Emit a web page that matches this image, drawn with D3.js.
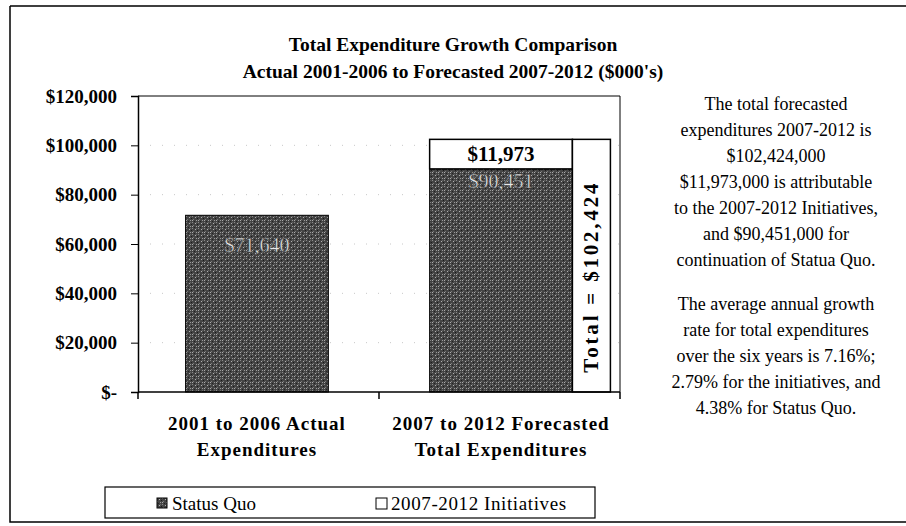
<!DOCTYPE html>
<html><head><meta charset="utf-8">
<script src="https://cdn.jsdelivr.net/npm/d3@7"></script>
<style>body{margin:0;background:#fff}svg{display:block}</style>
</head><body>
<svg id="c" width="906" height="526"></svg>
<script>
const categories = ["2001 to 2006 Actual|Expenditures", "2007 to 2012 Forecasted|Total Expenditures"];
const statusQuo = [71640, 90451];
const initiatives = [0, 11973];
const statusQuoLabels = ["$71,640", "$90,451"];
const initiativeLabels = ["", "$11,973"];
const totalLabel = "Total = $102,424";
const yTicks = [0, 20000, 40000, 60000, 80000, 100000, 120000];
const yTickLabels = ["$-", "$20,000", "$40,000", "$60,000", "$80,000", "$100,000", "$120,000"];
const seriesNames = ["Status Quo", "2007-2012 Initiatives"];
const titleLines = ["Total Expenditure Growth Comparison", "Actual 2001-2006 to Forecasted 2007-2012 ($000's)"];
const noteLines = ["The total forecasted", "expenditures 2007-2012 is", "$102,424,000", "$11,973,000 is attributable",
  "to the 2007-2012 Initiatives,", "and $90,451,000 for", "continuation of Statua Quo.", "",
  "The average annual growth", "rate for total expenditures", "over the six years is 7.16%;",
  "2.79% for the initiatives, and", "4.38% for Status Quo."];

const svg = d3.select("#c");
const serif = "'Liberation Serif','Times New Roman',serif";

// stipple pattern
const defs = svg.append("defs");
const pat = defs.append("pattern").attr("id","stip").attr("patternUnits","userSpaceOnUse").attr("width",6).attr("height",6);
pat.append("rect").attr("width",6).attr("height",6).attr("fill","#444");
[[0,0,"#8a8a8a"],[3,1,"#b0b0b0"],[1,3,"#7a7a7a"],[4,4,"#9a9a9a"],[2,5,"#222"],[5,2,"#1a1a1a"],[0,4,"#aaa"],[4,0,"#666"]]
  .forEach(([x,y,c])=>pat.append("rect").attr("x",x).attr("y",y).attr("width",1).attr("height",1).attr("fill",c));

// outer border
svg.append("path").attr("d","M10,6 H906 M10,6 V522 H906").attr("fill","none").attr("stroke","#000").attr("stroke-width",1.5);

// title
svg.append("g").selectAll("text").data(titleLines).join("text")
  .attr("x",453).attr("y",(d,i)=>51+i*27).attr("text-anchor","middle")
  .attr("font-family",serif).attr("font-weight","bold").attr("font-size",19.5).text(d=>d);

const x = d3.scaleBand().domain(categories).range([138,620]).paddingInner(0.415).paddingOuter(0.195);
const y = d3.scaleLinear().domain([0,120000]).range([392,96]);

// gridlines (faint dotted)
svg.append("g").selectAll("line").data(yTicks.slice(1,-1)).join("line")
  .attr("x1",138).attr("x2",620).attr("y1",d=>y(d)).attr("y2",d=>y(d))
  .attr("stroke","#c8c8c8").attr("stroke-dasharray","1,11");

// plot frame top/right
svg.append("path").attr("d",`M138,${y(120000)} H620 V${y(0)}`).attr("fill","none").attr("stroke","#000");

// bars status quo
svg.append("g").selectAll("rect").data(categories).join("rect")
  .attr("x",d=>x(d)).attr("width",x.bandwidth())
  .attr("y",(d,i)=>y(statusQuo[i])).attr("height",(d,i)=>y(0)-y(statusQuo[i]))
  .attr("fill","url(#stip)").attr("stroke","#000").attr("stroke-width",1);
// bars initiatives
svg.append("g").selectAll("rect").data(categories.filter((d,i)=>initiatives[i]>0)).join("rect")
  .attr("x",d=>x(d)).attr("width",x.bandwidth())
  .attr("y",d=>{const i=categories.indexOf(d);return y(statusQuo[i]+initiatives[i]);})
  .attr("height",d=>{const i=categories.indexOf(d);return y(statusQuo[i])-y(statusQuo[i]+initiatives[i]);})
  .attr("fill","#fff").attr("stroke","#000").attr("stroke-width",1.5);

// total box
const c2 = categories[1];
const tot = statusQuo[1]+initiatives[1];
const tbx = x(c2)+x.bandwidth();
svg.append("rect").attr("x",tbx).attr("width",38).attr("y",y(tot)).attr("height",y(0)-y(tot))
  .attr("fill","#fff").attr("stroke","#000").attr("stroke-width",1.5);
svg.append("text").attr("transform",`translate(${tbx+26},${(y(tot)+y(0))/2+11}) rotate(-90)`)
  .attr("text-anchor","middle").attr("font-family",serif).attr("font-weight","bold").attr("font-size",21)
  .attr("letter-spacing",2.8).text(totalLabel);

// bar labels
const sqOff=[30,12];
svg.append("g").selectAll("text").data(categories).join("text")
  .attr("x",d=>x(d)+x.bandwidth()/2).attr("y",(d,i)=>y(statusQuo[i])+sqOff[i]+7)
  .attr("text-anchor","middle").attr("font-family",serif).attr("font-size",20)
  .attr("fill","#e8e8e8").attr("stroke","#222").attr("stroke-width",0.4).text((d,i)=>statusQuoLabels[i]);
svg.append("g").selectAll("text").data(categories.filter((d,i)=>initiatives[i]>0)).join("text")
  .attr("x",d=>x(d)+x.bandwidth()/2)
  .attr("y",d=>{const i=categories.indexOf(d);return (y(statusQuo[i])+y(statusQuo[i]+initiatives[i]))/2+7;})
  .attr("text-anchor","middle").attr("font-family",serif).attr("font-weight","bold").attr("font-size",21)
  .text(d=>initiativeLabels[categories.indexOf(d)]);

// y axis
const yAxis = d3.axisLeft(y).tickValues(yTicks).tickSize(7).tickPadding(14).tickFormat((d,i)=>yTickLabels[i]);
const ya = svg.append("g").attr("transform","translate(138,0)").call(yAxis);
ya.select(".domain").attr("stroke","#000").attr("stroke-width",1.5);
ya.selectAll("text").attr("font-family",serif).attr("font-weight","bold").attr("font-size",19).attr("fill","#000");

// x axis
const xa = svg.append("g").attr("transform",`translate(0,${y(0)})`);
xa.append("line").attr("x1",138).attr("x2",620).attr("stroke","#000").attr("stroke-width",1.5);
const bounds = [138, 379, 620];
xa.selectAll("line.t").data(bounds).join("line").attr("class","t")
  .attr("x1",d=>d).attr("x2",d=>d).attr("y1",0).attr("y2",7).attr("stroke","#000").attr("stroke-width",1.5);
xa.selectAll("text").data(categories).join("text")
  .attr("x",d=>x(d)+x.bandwidth()/2).attr("text-anchor","middle")
  .attr("font-family",serif).attr("font-weight","bold").attr("font-size",19).attr("letter-spacing",1)
  .each(function(d){
    const t=d3.select(this);
    d.split("|").forEach((s,i)=>t.append("tspan").attr("x",x(d)+x.bandwidth()/2).attr("y",38+i*26).text(s));
  });

// notes
svg.append("g").selectAll("text").data(noteLines).join("text")
  .attr("x",776).attr("y",(d,i)=>110+i*26 + (i>7?-8:0)).attr("text-anchor","middle")
  .attr("font-family",serif).attr("font-size",18).text(d=>d);

// legend
const lg = svg.append("g");
lg.append("rect").attr("x",105).attr("y",487).attr("width",490).attr("height",31).attr("fill","#fff").attr("stroke","#000").attr("stroke-width",1.2);
lg.append("rect").attr("x",157).attr("y",498).attr("width",10).attr("height",10).attr("fill","url(#stip)").attr("stroke","#000");
lg.append("text").attr("x",172).attr("y",510).attr("font-family",serif).attr("font-size",19).text(seriesNames[0]);
lg.append("rect").attr("x",376).attr("y",498).attr("width",11).attr("height",11).attr("fill","#fff").attr("stroke","#000");
lg.append("text").attr("x",391).attr("y",510).attr("font-family",serif).attr("font-size",19).attr("letter-spacing",0.6).text(seriesNames[1]);
</script>
</body></html>
